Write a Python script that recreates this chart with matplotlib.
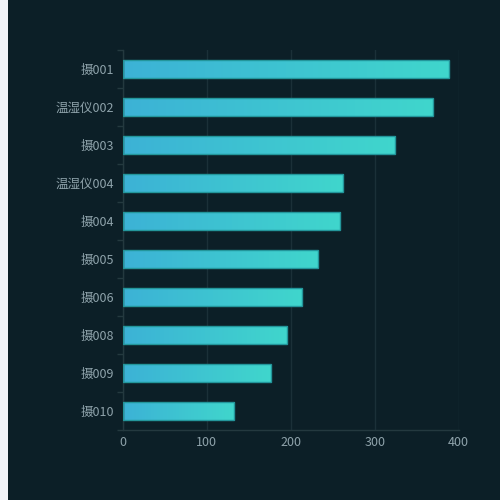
import numpy as np
import matplotlib
matplotlib.use('Agg')
import matplotlib.pyplot as plt
from matplotlib.colors import LinearSegmentedColormap
from matplotlib.patches import Rectangle

plt.rcParams['font.family'] = ['Noto Sans CJK SC', 'DejaVu Sans']

# data
names = ['摄001', '温湿仪002', '摄003', '温湿仪004', '摄004', '摄005', '摄006', '摄008', '摄009', '摄010']
values = [388, 369, 324, 262, 259, 232, 214, 196, 176, 133]
xticks = [0, 100, 200, 300, 400]

bg = '#0c1f27'
axcol = '#24393f'
txt = '#8fa3ab'
cmap = LinearSegmentedColormap.from_list('bar', ['#3cb2d6', '#40d6cc'])

fig = plt.figure(figsize=(5, 5), dpi=100, facecolor=bg)
fig.patches.append(Rectangle((0, 0), 8 / 500, 1, transform=fig.transFigure,
                             facecolor='#f2f4f9', edgecolor='none', zorder=0))
ax = fig.add_axes([0.2454, 0.14, 0.672, 0.76])
ax.set_facecolor(bg)

y = np.arange(len(names))
bars = ax.barh(y, values, height=0.45, facecolor='none', edgecolor='#23969b', linewidth=1, zorder=3)
grad = np.linspace(0, 1, 256).reshape(1, -1)
for b in bars:
    x0, y0 = b.get_x(), b.get_y()
    w, h = b.get_width(), b.get_height()
    im = ax.imshow(grad, cmap=cmap, aspect='auto', extent=(x0, x0 + w, y0, y0 + h),
                   zorder=2, interpolation='bilinear')
    im.set_clip_path(b)

ax.set_xlim(0, 400)
ax.set_ylim(len(names) - 0.5, -0.5)
ax.set_xticks(xticks)
ax.set_yticks(y)
ax.set_yticklabels(names)
ax.set_yticks(np.arange(len(names) + 1) - 0.5, minor=True)
ax.tick_params(axis='y', which='major', length=0, pad=6, labelsize=9, labelcolor=txt)
ax.tick_params(axis='y', which='minor', length=4, color=axcol, width=1)
ax.tick_params(axis='x', length=0, pad=4, labelsize=9, labelcolor=txt)

ax.grid(axis='x', color='#1b3038', linewidth=1, zorder=0)
ax.set_axisbelow(True)
for s in ['top', 'right']:
    ax.spines[s].set_visible(False)
for s in ['left', 'bottom']:
    ax.spines[s].set_color(axcol)
    ax.spines[s].set_linewidth(1)

fig.savefig('out.png', dpi=100, facecolor=bg)
